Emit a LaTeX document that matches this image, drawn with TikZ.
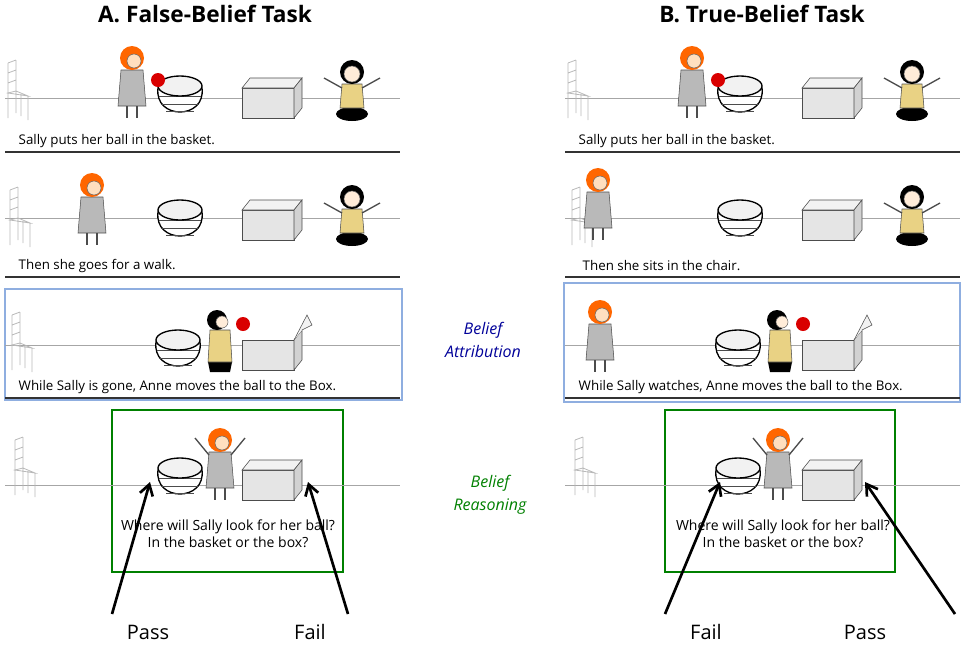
\documentclass[tikz,border=0pt]{standalone}
\usepackage{fontspec}
\setmainfont{Open Sans}
\usetikzlibrary{arrows.meta}
\begin{document}
\begin{tikzpicture}[x=0.75pt,y=-0.75pt,
 capt/.style={font=\fontsize{10}{12}\selectfont,anchor=west},
 ttl/.style={font=\fontsize{17}{20}\selectfont\bfseries},
 hz/.style={draw=gray!70,line width=0.6pt},
 ul/.style={draw=black!80,line width=1.4pt},
 arr/.style={line width=2pt,-{Straight Barb[length=8pt,width=10pt]}},
 lab/.style={font=\fontsize{15}{18}\selectfont},
 bframe/.style={draw=cyan!50!blue!45,line width=1pt},
 chair/.pic={\draw[gray!55,line width=0.6pt] (-10,0)--(-10,-55) (-2,-5)--(-2,-58) (-10,-55)--(-2,-58) (-10,-45)--(-2,-48) (-10,-35)--(-2,-38) (-10,-25)--(10,-22)--(-2,-27)--cycle (10,-22)--(10,2) (3,-24)--(3,-2);},
 sally/.pic={\fill[gray!55,draw=black!70] (-11,-48)--(11,-48)--(14,-12)--(-14,-12)--cycle;
  \draw[black!70,line width=1pt] (-5,-12)--(-5,0) (5,-12)--(5,0);
  \fill[orange!80!red] (0,-60) circle (12);
  \fill[orange!25,draw=black!60] (2,-57) circle (7);},
 anne/.pic={\fill[black] (0,-6) ellipse (16 and 7);
  \fill[yellow!40!brown!60,draw=black!70] (-10,-36)--(10,-36)--(12,-12)--(-12,-12)--cycle;
  \draw[black!70,line width=1pt] (-10,-32)--(-28,-42) (10,-32)--(28,-42);
  \fill[black] (0,-48) circle (12);
  \fill[orange!15,draw=black!60] (0,-46) circle (8);},
 annes/.pic={\fill[black] (-12,-10)--(12,-10)--(10,0)--(-10,0)--cycle;
  \fill[yellow!40!brown!60,draw=black!70] (-10,-42)--(10,-42)--(12,-10)--(-12,-10)--cycle;
  \fill[black] (-3,-52) circle (10);
  \fill[orange!15,draw=black!60] (2,-50) circle (6);},
 basket/.pic={\fill[white,draw=black,line width=1pt] (-22,-28) .. controls (-26,4) and (26,4) .. (22,-28) -- cycle;
  \draw[black!70] (-21,-20)--(21,-20) (-19,-12)--(19,-12) (-14,-5)--(14,-5);
  \draw[line width=1pt,fill=gray!10] (0,-30) ellipse (22 and 10);},
 box/.pic={\fill[gray!20,draw=black!70] (-30,-30)--(22,-30)--(22,0)--(-30,0)--cycle;
  \fill[gray!10,draw=black!70] (-30,-30)--(-22,-40)--(30,-40)--(22,-30)--cycle;
  \fill[gray!35,draw=black!70] (22,0)--(30,-10)--(30,-40)--(22,-30)--cycle;},
 obox/.pic={\fill[gray!20,draw=black!70] (-30,-30)--(22,-30)--(22,0)--(-30,0)--cycle;
  \fill[gray!35,draw=black!70] (22,0)--(30,-10)--(30,-40)--(22,-30)--cycle;
  \draw[black!70,fill=gray!10] (22,-30)--(35,-55)--(40,-45)--(30,-40);},
 ball/.pic={\fill[red!85!black] (0,0) circle (7);}]
\useasboundingbox (0,0) rectangle (966,644);
% titles
\node[ttl] (ta) at (205,14) {A. False-Belief Task};
\node[ttl] (tb) at (762,14) {B. True-Belief Task};
% ===== LEFT =====
\draw[hz] (5,98)--(400,98);
\pic at (18,118) {chair}; \pic at (132,118) {sally}; \pic at (180,116) {basket};
\pic at (158,80) {ball}; \pic at (272,118) {box}; \pic at (352,120) {anne};
\node[capt] (c1) at (14,141) {Sally puts her ball in the basket.};
\draw[ul] (5,152)--(400,152);
\draw[hz] (5,218)--(400,218);
\pic at (20,245) {chair}; \pic at (92,245) {sally}; \pic at (180,240) {basket};
\pic at (272,240) {box}; \pic at (352,245) {anne};
\node[capt] (c2) at (14,266) {Then she goes for a walk.};
\draw[ul] (5,277)--(400,277);
\draw[bframe] (5,289) rectangle (402,400);
\draw[hz] (5,345)--(400,345);
\pic at (22,370) {chair}; \pic at (178,370) {basket}; \pic at (220,372) {annes};
\pic at (243,324) {ball}; \pic at (272,370) {obox};
\node[capt] (c3) at (14,387) {While Sally is gone, Anne moves the ball to the Box.};
\draw[ul] (5,398)--(400,398);
\draw[draw=green!50!black,line width=0.8pt] (112,410) rectangle (343,572);
\draw[hz] (5,485)--(400,485);
\pic at (25,495) {chair}; \pic at (180,498) {basket}; \pic at (220,500) {sally};
\draw[black!70,line width=1pt] (209,455)--(195,438) (231,455)--(245,438);
\pic at (272,500) {box};
\node[font=\fontsize{10.5}{13}\selectfont,align=center] (q1) at (228,534) {Where will Sally look for her ball?\\In the basket or the box?};
% ===== RIGHT =====
\draw[hz] (565,98)--(960,98);
\pic at (578,118) {chair}; \pic at (692,118) {sally}; \pic at (740,116) {basket};
\pic at (718,80) {ball}; \pic at (832,118) {box}; \pic at (912,120) {anne};
\node[capt] (d1) at (574,141) {Sally puts her ball in the basket.};
\draw[ul] (565,152)--(960,152);
\draw[hz] (565,218)--(960,218);
\pic at (582,245) {chair}; \pic at (598,240) {sally}; \pic at (740,240) {basket};
\pic at (832,240) {box}; \pic at (912,245) {anne};
\node[capt] (d2) at (578,266) {Then she sits in the chair.};
\draw[ul] (565,277)--(960,277);
\draw[bframe] (564,283) rectangle (960,402);
\draw[hz] (565,345)--(960,345);
\pic at (600,372) {sally}; \pic at (738,370) {basket}; \pic at (780,372) {annes};
\pic at (803,324) {ball}; \pic at (832,370) {obox};
\node[capt] (d3) at (574,387) {While Sally watches, Anne moves the ball to the Box.};
\draw[ul] (565,398)--(960,398);
\draw[draw=green!50!black,line width=0.8pt] (665,410) rectangle (895,572);
\draw[hz] (565,485)--(960,485);
\pic at (585,495) {chair}; \pic at (738,498) {basket}; \pic at (778,500) {sally};
\draw[black!70,line width=1pt] (767,455)--(753,438) (789,455)--(803,438);
\pic at (832,500) {box};
\node[font=\fontsize{10.5}{13}\selectfont,align=center] (q2) at (783,534) {Where will Sally look for her ball?\\In the basket or the box?};
% middle labels
\node[font=\fontsize{12}{15}\selectfont\itshape,text=blue!60!black,align=center] (ba) at (483,340) {Belief\\[2pt]Attribution};
\node[font=\fontsize{12}{15}\selectfont\itshape,text=green!50!black,align=center] (br) at (490,495) {Belief\\[2pt]Reasoning};
% arrows and labels
\node[lab] (p1) at (148,632) {Pass}; \node[lab] (f1) at (310,632) {Fail};
\node[lab] (f2) at (706,632) {Fail}; \node[lab] (p2) at (865,632) {Pass};
\coordinate (a1) at (150,482); \coordinate (a2) at (308,482);
\coordinate (a3) at (720,482); \coordinate (a4) at (865,482);
\coordinate (s1) at (112,614); \coordinate (s2) at (348,614);
\coordinate (s3) at (665,614); \coordinate (s4) at (955,614);
\draw[arr] (s1)--(a1); \draw[arr] (s2)--(a2);
\draw[arr] (s3)--(a3); \draw[arr] (s4)--(a4);
\end{tikzpicture}
\end{document}
